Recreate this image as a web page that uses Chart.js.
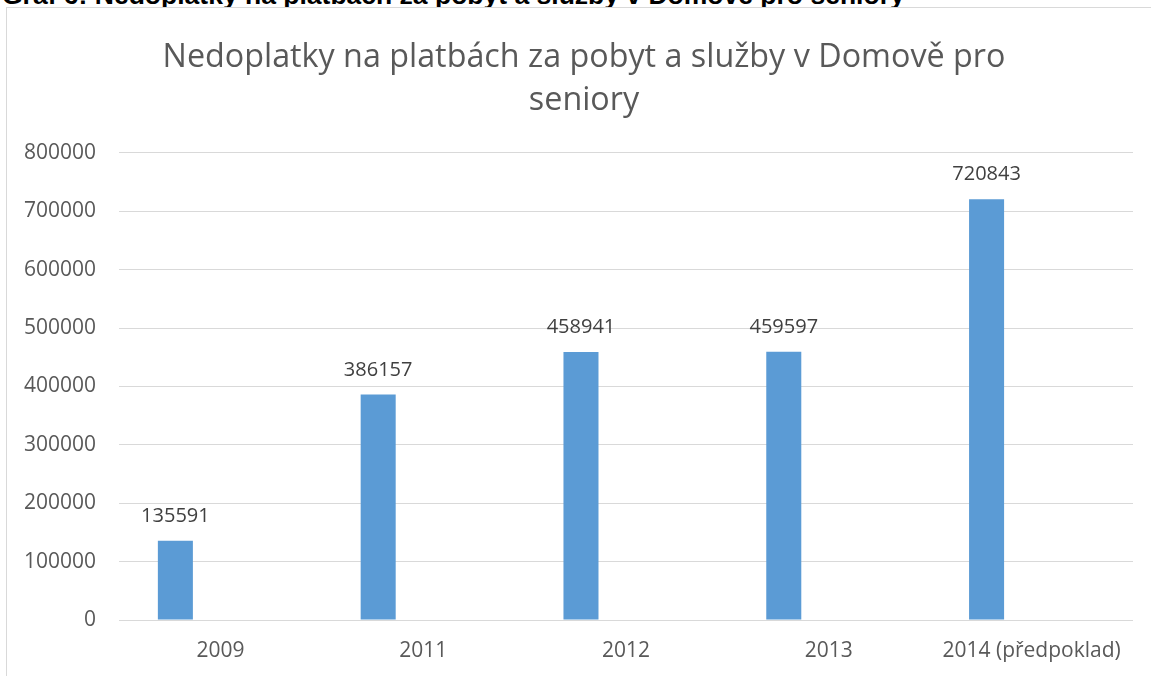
<!DOCTYPE html>
<html>
<head>
<meta charset="utf-8">
<script src="https://cdn.jsdelivr.net/npm/chart.js@4.4.0/dist/chart.umd.min.js"></script>
<style>
  html, body { margin: 0; padding: 0; background: #fff; overflow: hidden; }
  body { width: 1151px; height: 676px; position: relative; }
  #cap { position: absolute; left: 2px; top: -18px; font: bold 26.5px "Liberation Sans", Arial, sans-serif; color: #000; white-space: nowrap; line-height: 26.5px; }
  #box { position: absolute; left: 6px; top: 7px; width: 1150px; height: 680px; border-left: 1px solid #d9d9d9; border-top: 1px solid #d9d9d9; background: #fff; }
  #wrap { position: absolute; left: 0; top: 0; width: 1144px; height: 668px; }
</style>
</head>
<body>
<div id="cap">Graf 6: Nedoplatky na platbách za pobyt a služby v Domově pro seniory</div>
<div id="box"><div id="wrap"><canvas id="c"></canvas></div></div>
<script>
const categories = ["2009", "2011", "2012", "2013", "2014 (předpoklad)"];
const values = [135591, 386157, 458941, 459597, 720843];
const emptySeries = [null, null, null, null, null];
const titleLines = ["Nedoplatky na platbách za pobyt a služby v Domově pro", "seniory"];
const yTicks = [0, 100000, 200000, 300000, 400000, 500000, 600000, 700000, 800000];

const FONT = '"Open Sans", Lato, sans-serif';

const valueLabels = {
  id: 'valueLabels',
  afterDatasetsDraw(chart) {
    const ctx = chart.ctx;
    const meta = chart.getDatasetMeta(0);
    ctx.save();
    ctx.font = '20px ' + FONT;
    ctx.fillStyle = '#404040';
    ctx.textAlign = 'center';
    ctx.textBaseline = 'alphabetic';
    meta.data.forEach((bar, i) => {
      const v = chart.data.datasets[0].data[i];
      if (v == null) return;
      ctx.fillText(String(v), bar.x, bar.y - 19);
    });
    ctx.restore();
  }
};

const shiftTitle = {
  id: 'shiftTitle',
  afterLayout(chart) {
    const t = chart.titleBlock;
    if (t) { t.left += 28; t.width = t.right - t.left; }
  }
};

new Chart(document.getElementById('c'), {
  type: 'bar',
  data: {
    labels: categories,
    datasets: [
      { label: 'Nedoplatky', data: values, backgroundColor: '#5B9BD5', categoryPercentage: 0.888, barPercentage: 0.389 },
      { label: '', data: emptySeries, backgroundColor: '#ED7D31', categoryPercentage: 0.888, barPercentage: 0.389 }
    ]
  },
  options: {
    responsive: true,
    maintainAspectRatio: false,
    animation: false,
    layout: { padding: { left: 0, right: 18, top: 0, bottom: 0 } },
    plugins: {
      legend: { display: false },
      tooltip: { enabled: false },
      title: {
        display: true,
        text: titleLines,
        color: '#595959',
        font: { family: FONT, size: 32.3, weight: 'normal', lineHeight: 1.33 },
        padding: { top: 28, bottom: 31 }
      }
    },
    scales: {
      x: {
        grid: { display: false },
        border: { display: false },
        ticks: { color: '#595959', font: { family: FONT, size: 21 }, padding: 10, maxRotation: 0 },
        afterFit(s) { s.height = 56; }
      },
      y: {
        min: 0, max: 800000,
        afterBuildTicks(s) { s.ticks = yTicks.map(v => ({ value: v })); },
        grid: { color: '#d9d9d9', lineWidth: 1, drawTicks: false },
        border: { display: false },
        ticks: { color: '#595959', font: { family: FONT, size: 21 }, padding: 23, callback: v => String(v) },
        afterFit(s) { s.width = 112; }
      }
    }
  },
  plugins: [valueLabels, shiftTitle]
});
</script>
</body>
</html>
